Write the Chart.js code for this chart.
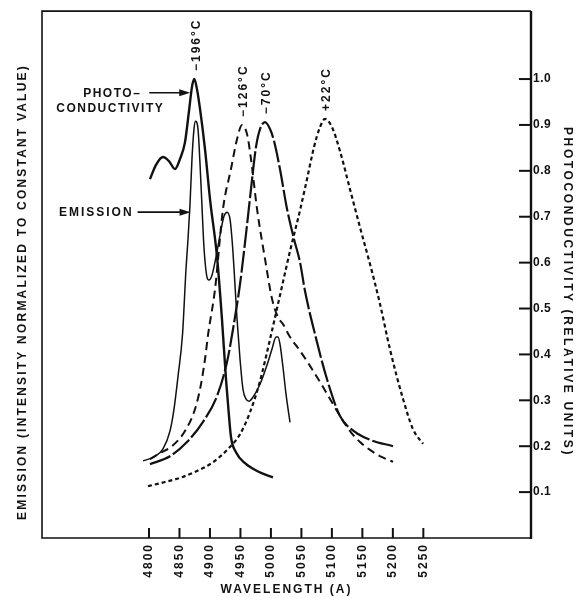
<!DOCTYPE html>
<html><head><meta charset="utf-8">
<script src="https://cdn.jsdelivr.net/npm/chart.js@4.4.1/dist/chart.umd.min.js"></script>
<style>html,body{margin:0;padding:0;background:#fff;}#wrap{width:578px;height:598px;}</style>
</head><body><div id="wrap"><canvas id="c" width="578" height="598"></canvas></div>
<script>
// ---- tick labels ----
const wavelengthTicks = [4800,4850,4900,4950,5000,5050,5100,5150,5200,5250];
const photoTicks = [0.1,0.2,0.3,0.4,0.5,0.6,0.7,0.8,0.9,1.0];
const tempLabels = ['\u2212196\u00B0C','\u2212126\u00B0C','\u221270\u00B0C','+22\u00B0C'];

// ---- -196 C photoconductivity ----
const pc196Wl  = [4801.6,4811.5,4823.0,4832.8,4842.7,4850.9,4859.0,4865.6,4870.5,4874.3,4878.7,4883.7,4891.9,4900.1,4911.5,4919.7,4926.3,4929.6,4934.5,4942.7,4957.5,4978.8,5003.4];
const pc196Val = [0.782,0.813,0.830,0.821,0.804,0.826,0.862,0.930,0.983,1.000,0.978,0.935,0.847,0.738,0.614,0.477,0.346,0.292,0.220,0.187,0.163,0.145,0.132];

// ---- -196 C emission ----
const em196Wl  = [4790.2,4809.8,4823.0,4834.4,4841.0,4847.5,4855.0,4860.7,4864.0,4867.3,4870.5,4873.8,4876.3,4880.4,4883.7,4886.4,4889.4,4891.9,4895.2,4898.4,4903.4,4909.9,4916.5,4923.0,4928.0,4932.9,4936.2,4939.5,4944.4,4949.3,4954.2,4959.1,4964.0,4970.6,4982.1,4993.6,5001.8,5008.4,5011.6,5014.8,5019.8,5024.7,5031.3];
const em196Val = [0.168,0.178,0.194,0.233,0.281,0.351,0.444,0.586,0.651,0.728,0.826,0.891,0.908,0.891,0.815,0.738,0.651,0.603,0.568,0.562,0.573,0.612,0.660,0.701,0.710,0.695,0.651,0.586,0.477,0.390,0.324,0.303,0.298,0.307,0.335,0.377,0.412,0.438,0.438,0.423,0.372,0.314,0.252];

// ---- -126 C ----
const c126Wl  = [4801.6,4818.0,4839.4,4859.0,4875.5,4885.3,4891.9,4897.0,4908.3,4921.4,4934.5,4944.4,4952.6,4960.8,4967.3,4977.2,4990.3,5001.8,5011.6,5019.8,5031.3,5047.7,5064.1,5080.5,5096.9,5113.3,5129.7,5146.1,5162.5,5182.2,5200.3];
const c126Val = [0.172,0.185,0.202,0.233,0.281,0.335,0.390,0.444,0.542,0.717,0.804,0.869,0.900,0.880,0.826,0.717,0.608,0.521,0.481,0.466,0.438,0.408,0.375,0.340,0.303,0.266,0.233,0.209,0.192,0.176,0.166];

// ---- -70 C ----
const c70Wl  = [4801.6,4834.4,4862.3,4888.6,4911.5,4927.9,4937.8,4949.3,4959.1,4967.3,4975.5,4982.1,4990.3,4998.5,5005.1,5014.8,5026.4,5037.9,5047.7,5055.9,5072.3,5092.0,5113.3,5137.9,5162.5,5200.3];
const c70Val = [0.161,0.178,0.209,0.253,0.309,0.383,0.455,0.553,0.662,0.760,0.852,0.891,0.906,0.891,0.865,0.804,0.717,0.651,0.601,0.538,0.444,0.346,0.266,0.231,0.214,0.200];

// ---- +22 C ----
const c22Wl  = [4798.4,4826.2,4850.9,4878.7,4905.0,4929.6,4949.3,4965.7,4982.1,4998.5,5014.9,5031.3,5047.7,5059.2,5070.7,5080.5,5088.7,5100.2,5113.3,5129.7,5146.1,5162.5,5178.9,5195.3,5216.7,5233.1,5249.5];
const c22Val = [0.113,0.122,0.131,0.146,0.165,0.194,0.226,0.274,0.342,0.433,0.529,0.625,0.714,0.782,0.852,0.895,0.913,0.895,0.843,0.760,0.677,0.597,0.510,0.411,0.303,0.237,0.205];

const INK = '#111';
const FONT = "'Liberation Sans', Arial, sans-serif";
const pts = (wl, v) => wl.map((x, i) => ({x, y: v[i]}));
const base = {borderColor: INK, pointRadius: 0, fill: false, cubicInterpolationMode: 'monotone', yAxisID: 'y'};

const datasets = [
  Object.assign({label: 'Photoconductivity \u2212196\u00B0C', data: pts(pc196Wl, pc196Val), borderWidth: 2.4}, base),
  Object.assign({label: 'Emission \u2212196\u00B0C', data: pts(em196Wl, em196Val), borderWidth: 1.5}, base),
  Object.assign({label: '\u2212126\u00B0C', data: pts(c126Wl, c126Val), borderWidth: 2, borderDash: [8, 5]}, base),
  Object.assign({label: '\u221270\u00B0C', data: pts(c70Wl, c70Val), borderWidth: 2.2, borderDash: [22, 3]}, base),
  Object.assign({label: '+22\u00B0C', data: pts(c22Wl, c22Val), borderWidth: 2.2, borderDash: [4, 3]}, base)
];
const tempDatasetIndex = [0, 2, 3, 4];
const FRAME_TOP_VALUE = 1.148;

function crossing(ds, value) {
  const d = ds.data;
  let pk = 0;
  d.forEach((p, i) => { if (p.y > d[pk].y) pk = i; });
  for (let i = pk; i > 0; i--) {
    const a = d[i - 1], b = d[i];
    if (a.y <= value && b.y >= value) return a.x + (value - a.y) / (b.y - a.y) * (b.x - a.x);
  }
  return d[0].x;
}

const spacing = {x: {labels: '2px', title: '2px'}, y: {labels: '0.5px', title: '2.6px'}, yl: {labels: '0px', title: '2.2px'}};

const decor = {
  id: 'decor',
  beforeDraw(chart) {
    Object.values(chart.scales).forEach(s => {
      if (s.__wrapped) return;
      const sp = spacing[s.id] || {};
      [['drawLabels', sp.labels], ['drawTitle', sp.title]].forEach(([fn, val]) => {
        const orig = s[fn];
        s[fn] = function (...args) {
          const c = this.ctx, prev = c.letterSpacing;
          c.letterSpacing = val || '0px';
          orig.apply(this, args);
          c.letterSpacing = prev;
        };
      });
      s.__wrapped = true;
    });
  },
  afterDraw(chart) {
    const {ctx, chartArea: a, scales} = chart;
    const xs = scales.x, ys = scales.y;
    const top = ys.getPixelForValue(FRAME_TOP_VALUE);
    ctx.save();
    ctx.strokeStyle = INK; ctx.fillStyle = INK; ctx.setLineDash([]);
    // frame
    ctx.lineWidth = 1.6;
    ctx.beginPath();
    ctx.moveTo(a.right, top); ctx.lineTo(a.left, top); ctx.lineTo(a.left, a.bottom); ctx.lineTo(a.right, a.bottom);
    ctx.stroke();
    ctx.lineWidth = 2.4;
    ctx.beginPath(); ctx.moveTo(a.right, top); ctx.lineTo(a.right, a.bottom + 1); ctx.stroke();
    // inward ticks
    ctx.lineWidth = 2;
    ys.ticks.forEach(t => { const py = ys.getPixelForValue(t.value); ctx.beginPath(); ctx.moveTo(a.right - 12, py); ctx.lineTo(a.right, py); ctx.stroke(); });
    xs.ticks.forEach(t => { const px = xs.getPixelForValue(t.value); ctx.beginPath(); ctx.moveTo(px, a.bottom - 10); ctx.lineTo(px, a.bottom); ctx.stroke(); });
    // temperature labels above peaks
    ctx.letterSpacing = '2px';
    ctx.font = 'bold 12px ' + FONT;
    ctx.textAlign = 'left'; ctx.textBaseline = 'middle';
    tempLabels.forEach((lab, k) => {
      const d = chart.data.datasets[tempDatasetIndex[k]].data;
      let pk = d[0]; d.forEach(p => { if (p.y > pk.y) pk = p; });
      const px = xs.getPixelForValue(pk.x), py = ys.getPixelForValue(pk.y);
      ctx.save(); ctx.translate(px + 2, py - 8); ctx.rotate(-Math.PI / 2); ctx.fillText(lab, 0, 0); ctx.restore();
    });
    // arrows with labels
    function arrow(x0, x1, y) {
      ctx.lineWidth = 1.6;
      ctx.beginPath(); ctx.moveTo(x0, y); ctx.lineTo(x1 - 8, y); ctx.stroke();
      ctx.beginPath(); ctx.moveTo(x1, y); ctx.lineTo(x1 - 11, y - 3.5); ctx.lineTo(x1 - 11, y + 3.5); ctx.closePath(); ctx.fill();
    }
    const pcV = 0.97, emV = 0.71;
    const pcX = xs.getPixelForValue(crossing(chart.data.datasets[0], pcV)) - 1;
    const pcY = ys.getPixelForValue(pcV);
    arrow(pcX - 41, pcX, pcY);
    ctx.letterSpacing = '1.5px';
    ctx.textBaseline = 'middle';
    ctx.textAlign = 'center';
    ctx.fillText('PHOTO\u2013', pcX - 78, pcY + 1);
    ctx.fillText('CONDUCTIVITY', pcX - 80, pcY + 16);
    const emX = xs.getPixelForValue(crossing(chart.data.datasets[1], emV)) + 1;
    const emY = ys.getPixelForValue(emV);
    arrow(emX - 53, emX, emY);
    ctx.letterSpacing = '2px';
    ctx.textAlign = 'right';
    ctx.fillText('EMISSION', emX - 57, emY + 1);
    ctx.restore();
  }
};

new Chart(document.getElementById('c'), {
  type: 'line',
  data: {datasets},
  plugins: [decor],
  options: {
    responsive: false, animation: false, devicePixelRatio: 1,
    layout: {padding: {top: 46, left: 0, right: 0, bottom: 0}},
    plugins: {legend: {display: false}, tooltip: {enabled: false}},
    scales: {
      x: {
        type: 'linear', position: 'bottom', min: 4624.5, max: 5426.6,
        afterBuildTicks: s => { s.ticks = wavelengthTicks.map(v => ({value: v})); },
        afterFit: s => { s.height = 60; },
        grid: {display: false, drawTicks: false}, border: {display: false},
        ticks: {autoSkip: false, minRotation: 90, maxRotation: 90, padding: 5, color: INK,
                font: {family: FONT, size: 12, weight: 'bold'}, callback: v => String(v)},
        title: {display: true, text: 'WAVELENGTH (A)', color: INK, padding: {top: 0, bottom: 0.8},
                font: {family: FONT, size: 12, weight: 'bold'}}
      },
      y: {
        type: 'linear', position: 'right', min: 0, max: 1.072,
        afterBuildTicks: s => { s.ticks = photoTicks.map(v => ({value: v})); },
        afterFit: s => { s.width = 47; },
        grid: {display: false, drawTicks: false}, border: {display: false},
        ticks: {padding: 2, color: INK, font: {family: FONT, size: 12, weight: 'bold'}, callback: v => v.toFixed(1)},
        title: {display: true, text: 'PHOTOCONDUCTIVITY (RELATIVE UNITS)', color: INK, padding: {top: 3.8, bottom: 0},
                font: {family: FONT, size: 12, weight: 'bold'}}
      },
      yl: {
        type: 'linear', position: 'left', min: 0, max: 1.072,
        afterFit: s => { s.width = 42; },
        grid: {display: false, drawTicks: false}, border: {display: false},
        ticks: {display: false},
        title: {display: true, text: 'EMISSION (INTENSITY NORMALIZED TO CONSTANT VALUE)', color: INK, padding: {top: 15, bottom: 0},
                font: {family: FONT, size: 12, weight: 'bold'}}
      }
    }
  }
});
</script></body></html>
